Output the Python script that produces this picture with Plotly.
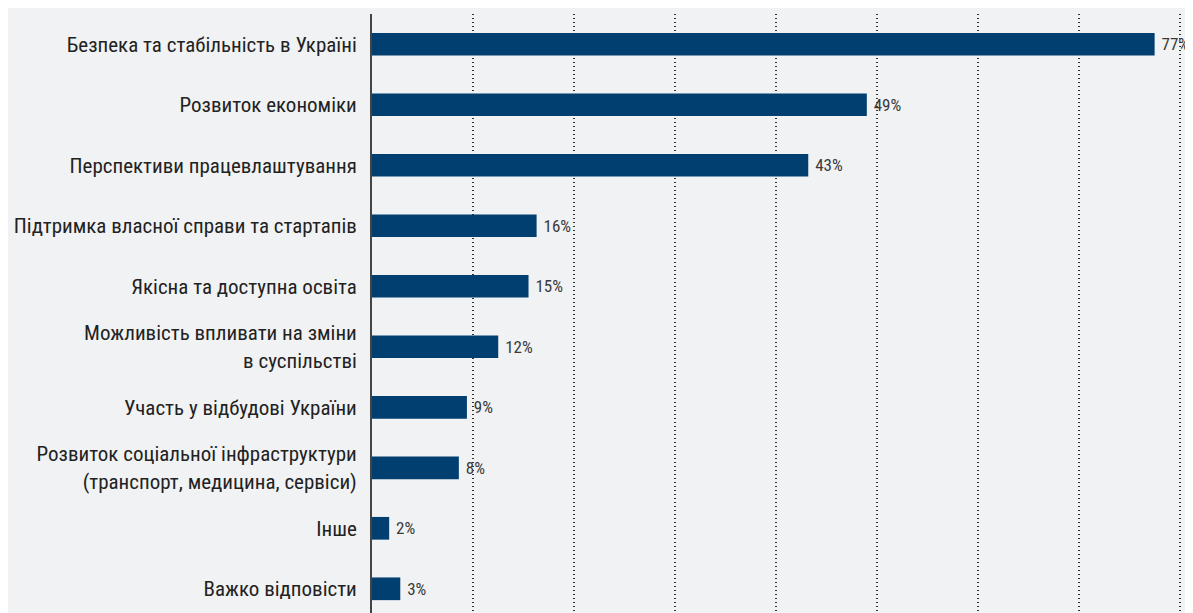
import plotly.graph_objects as go

categories = [
    "Безпека та стабільність в Україні",
    "Розвиток економіки",
    "Перспективи працевлаштування",
    "Підтримка власної справи та стартапів",
    "Якісна та доступна освіта",
    "Можливість впливати на зміни<br>в суспільстві",
    "Участь у відбудові України",
    "Розвиток соціальної інфраструктури<br>(транспорт, медицина, сервіси)",
    "Інше",
    "Важко відповісти",
]
values = [77.5, 49.0, 43.2, 16.3, 15.5, 12.5, 9.4, 8.6, 1.7, 2.8]
value_labels = ["77%", "49%", "43%", "16%", "15%", "12%", "9%", "8%", "2%", "3%"]

FONT = "Liberation Sans Narrow, Roboto Condensed, Arial Narrow, Roboto, sans-serif"
BG = "#f1f2f4"

fig = go.Figure(
    go.Bar(
        x=values,
        y=categories,
        orientation="h",
        marker=dict(color="#003f6f", line=dict(width=0)),
        width=0.375,
        text=["\u00a0" + t for t in value_labels],
        textposition="outside",
        cliponaxis=False,
        textfont=dict(family=FONT, size=17, color="#3a3a3a"),
        hoverinfo="skip",
    )
)

fig.update_layout(
    width=1185,
    height=605,
    margin=dict(l=364, r=0, t=6, b=0, pad=0, autoexpand=False),
    paper_bgcolor=BG,
    plot_bgcolor=BG,
    showlegend=False,
    font=dict(family=FONT, color="#222222"),
    xaxis=dict(
        range=[0, 81.3],
        dtick=10,
        tick0=0,
        showgrid=True,
        griddash="1px,3px",
        gridcolor="#333333",
        gridwidth=1.5,
        showticklabels=False,
        zeroline=False,
        showline=False,
        automargin=False,
        fixedrange=True,
    ),
    yaxis=dict(
        type="category",
        categoryorder="array",
        categoryarray=categories,
        range=[9.4, -0.5],
        showgrid=False,
        zeroline=False,
        showline=True,
        linecolor="#444444",
        linewidth=2,
        ticks="",
        ticklabelstandoff=9,
        automargin=False,
        tickfont=dict(family=FONT, size=21, color="#222222"),
        fixedrange=True,
    ),
)

fig.write_html("out.html")
